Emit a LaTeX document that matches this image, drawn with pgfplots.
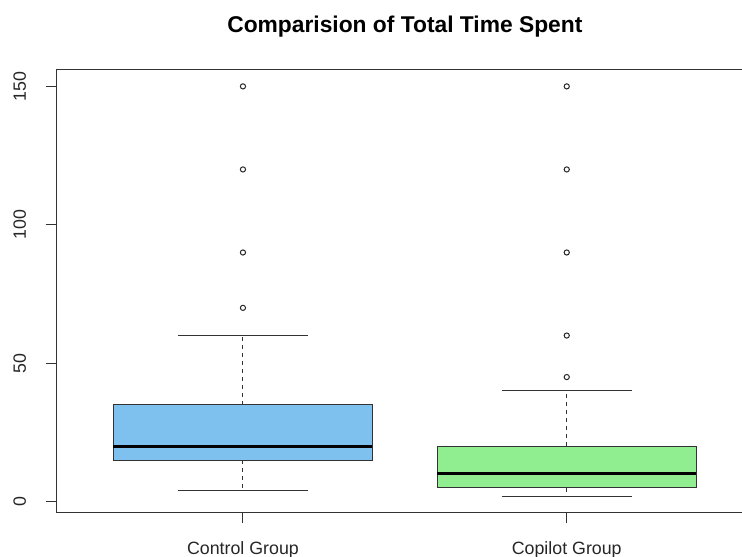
\documentclass[border=0pt]{standalone}
\usepackage{pgfplots}
\pgfplotsset{compat=1.18}
\usepackage{fontspec}
\setmainfont{Liberation Sans}
\definecolor{boxblue}{HTML}{7EC0EE}
\definecolor{boxgreen}{HTML}{90EE90}
\definecolor{axgray}{HTML}{333333}
\begin{document}
\begin{tikzpicture}
\useasboundingbox (-28pt,-21.75pt) rectangle (343pt,256.25pt);
\begin{axis}[
  name=main,
  at={(0,0)}, anchor=south west,
  scale only axis, width=348.84pt, height=221.25pt,
  xmin=0.4226, xmax=2.5774, ymin=-3.92, ymax=155.92,
  xtick={1,2}, xticklabels={Control Group, Copilot Group},
  ytick={0,50,100,150},
  xtick pos=left, ytick pos=left,
  tick align=outside, major tick length=5.25pt,
  axis line style={axgray, line width=0.5pt},
  tick style={axgray, line width=0.5pt},
  ticklabel style={font=\fontsize{8.9}{10}\selectfont, text=black!85},
  /pgf/number format/assume math mode=true,
  xticklabel style={anchor=north, inner sep=0pt},
  yticklabel style={rotate=90, anchor=south, inner sep=0pt},
  xticklabel shift=9pt,
  yticklabel shift=9.5pt,
  whisk/.style={axgray, line width=0.5pt, dash pattern=on 2pt off 2pt},
  cap/.style={axgray, line width=0.5pt, solid},
  boxst/.style={draw=axgray, line width=0.5pt},
  med/.style={black, line width=1.5pt},
  outl/.style={only marks, mark=o, mark size=1.3pt, mark options={draw=black!85, line width=0.5pt}},
]
% Control Group
\addplot[whisk] coordinates {(1,35) (1,60)};
\addplot[whisk] coordinates {(1,15) (1,4)};
\addplot[cap] coordinates {(0.8,60) (1.2,60)};
\addplot[cap] coordinates {(0.8,4) (1.2,4)};
\addplot[boxst, fill=boxblue] coordinates {(0.6,15) (1.4,15) (1.4,35) (0.6,35)} -- cycle;
\addplot[med] coordinates {(0.6,20) (1.4,20)};
\addplot[outl] coordinates {(1,70) (1,90) (1,120) (1,150)};
% Copilot Group
\addplot[whisk] coordinates {(2,20) (2,40)};
\addplot[whisk] coordinates {(2,5) (2,2)};
\addplot[cap] coordinates {(1.8,40) (2.2,40)};
\addplot[cap] coordinates {(1.8,2) (2.2,2)};
\addplot[boxst, fill=boxgreen] coordinates {(1.6,5) (2.4,5) (2.4,20) (1.6,20)} -- cycle;
\addplot[med] coordinates {(1.6,10) (2.4,10)};
\addplot[outl] coordinates {(2,45) (2,60) (2,90) (2,120) (2,150)};
\end{axis}
\node[font=\fontsize{11.4}{13}\selectfont\bfseries, anchor=base, inner sep=0pt]
  at ([yshift=18.5pt]main.north) {Comparision of Total Time Spent};
\end{tikzpicture}
\end{document}
